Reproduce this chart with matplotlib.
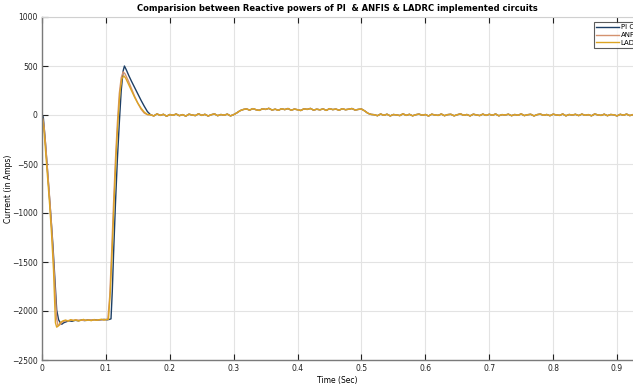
import numpy as np
import matplotlib
matplotlib.use("Agg")
import matplotlib.pyplot as plt

# ---- data -------------------------------------------------------------
series_names = ["PI Controller", "ANFIS", "LADRC"]

# start-up transient (time in s, reactive power)
t_pi = [0, 0.002, 0.005, 0.008, 0.011, 0.014, 0.017, 0.020, 0.023, 0.026,
        0.029, 0.031, 0.034, 0.038, 0.042, 0.047, 0.052, 0.057, 0.062, 0.067,
        0.072, 0.077, 0.082, 0.087, 0.092, 0.097, 0.102, 0.106, 0.108, 0.110,
        0.112, 0.115, 0.118, 0.121, 0.124, 0.127, 0.129, 0.132, 0.136, 0.140,
        0.145, 0.150, 0.155, 0.160, 0.165]
q_pi = [0, -20, -250, -520, -780, -1040, -1320, -1650, -1990, -2090,
        -2125, -2135, -2120, -2110, -2100, -2105, -2095, -2100, -2092, -2098,
        -2090, -2095, -2088, -2093, -2090, -2086, -2090, -2085, -2080, -1800,
        -1420, -900, -450, -80, 250, 450, 500, 460, 400, 345,
        280, 215, 150, 90, 35]

t_an = [0, 0.003, 0.006, 0.009, 0.012, 0.015, 0.018, 0.021, 0.023, 0.025,
        0.028, 0.032, 0.037, 0.045, 0.055, 0.065, 0.075, 0.085, 0.095, 0.103,
        0.106, 0.109, 0.112, 0.115, 0.118, 0.121, 0.124, 0.127, 0.130, 0.135,
        0.140, 0.145, 0.150, 0.155, 0.160, 0.165]
q_an = [0, -100, -330, -590, -850, -1140, -1480, -1850, -2080, -2150,
        -2140, -2110, -2100, -2095, -2092, -2096, -2090, -2093, -2088, -2086,
        -1850, -1400, -900, -450, -80, 220, 380, 440, 420, 350,
        270, 190, 120, 60, 20, 3]

t_la = [0, 0.003, 0.006, 0.009, 0.012, 0.015, 0.018, 0.020, 0.021, 0.023,
        0.026, 0.029, 0.033, 0.037, 0.041, 0.045, 0.049, 0.053, 0.057, 0.061,
        0.065, 0.069, 0.073, 0.077, 0.081, 0.085, 0.089, 0.093, 0.097, 0.101,
        0.104, 0.107, 0.110, 0.113, 0.116, 0.119, 0.122, 0.125, 0.128, 0.131,
        0.135, 0.140, 0.145, 0.150, 0.155, 0.160, 0.165]
q_la = [0, -150, -400, -660, -920, -1220, -1580, -1950, -2120, -2165,
        -2150, -2115, -2100, -2092, -2104, -2088, -2098, -2090, -2102, -2094,
        -2086, -2097, -2091, -2099, -2088, -2095, -2090, -2084, -2093, -2086,
        -2085, -1800, -1350, -850, -400, -50, 230, 370, 400, 375,
        320, 250, 180, 120, 70, 30, 5]

# steady-state part shared by all three controllers, 0.170 s .. 0.925 s
q_tail = [2, -9, 11, -4, 7, -12, 5, -3, 10, -7,
          4, -11, 8, 0, -6, 12, -4, 7, -10, 3,
          11, -7, 5, -2, 9, -9, 4,
          22, 44, 56,
          62, 50, 65, 54, 47, 63, 57, 68, 51, 59,
          48, 64, 55, 66, 49, 60, 54, 46, 63, 57,
          67, 50, 59, 53, 62, 47, 65, 55, 60, 49,
          64, 54, 59, 66, 51, 57, 61,
          42, 18, 6,
          3, -7, 10, -3, 8, -9, 5, 1, -6, 12,
          -4, 7, -8, 3, 9, -2, 5, -10, 8, 0,
          -4, 10, -7, 4, 7, -8, 3, 11, -3, 5,
          -9, 8, 1, -6, 9, -4, 7, -2, 10, -8,
          4, 0, 8, -7, 5, -3, 11, -6, 3, 7,
          -9, 4, 9, -3, 5, -7, 8, 1, -4, 10,
          -8, 5, 0, 7, -6, 9, -3, 4, -8, 10,
          1, -4, 8, -7, 5, 2, -9, 7, -2, 9,
          -6, 4]
t_tail = np.linspace(0.170, 0.925, len(q_tail))

x_ticks = [0, 0.1, 0.2, 0.3, 0.4, 0.5, 0.6, 0.7, 0.8, 0.9]
x_ticklabels = ["0", "0.1", "0.2", "0.3", "0.4", "0.5", "0.6", "0.7", "0.8", "0.9"]
y_ticks = [-2500, -2000, -1500, -1000, -500, 0, 500, 1000]

colors = ["#1d3f66", "#d4926f", "#dca423"]

# ---- figure -----------------------------------------------------------
fig = plt.figure(figsize=(6.33, 3.85), dpi=100)
ax = fig.add_axes([42 / 633, 25 / 385, 1 - 42 / 633, 343 / 385])

for t, q, name, c in zip([t_pi, t_an, t_la], [q_pi, q_an, q_la],
                         series_names, colors):
    tt = np.concatenate([t, t_tail])
    qq = np.concatenate([q, q_tail])
    ax.plot(tt, qq, color=c, lw=1.0, label=name)

ax.set_xlim(0, 0.925)
ax.set_ylim(-2500, 1000)
ax.set_xticks(x_ticks)
ax.set_xticklabels(x_ticklabels)
ax.set_yticks(y_ticks)
ax.tick_params(direction="in", length=4, width=0.8, labelsize=5.5,
               top=True, right=False, colors="#222222", pad=3)
ax.grid(True, color="#e3e3e3", lw=0.8)
ax.set_axisbelow(True)
for side in ["left", "bottom"]:
    ax.spines[side].set_color("#7a7a7a")
    ax.spines[side].set_linewidth(1.0)
ax.spines["top"].set_color("#d0d0d0")
ax.spines["right"].set_visible(False)

ax.set_title("Comparision between Reactive powers of PI  & ANFIS & LADRC implemented circuits",
             fontsize=6, fontweight="bold", pad=4)
ax.set_xlabel("Time (Sec)", fontsize=5.5, labelpad=2)
ax.set_ylabel("Current (in Amps)", fontsize=5.5)
ax.yaxis.set_label_coords(-29 / 591, 0.5)

leg = ax.legend(loc="upper left", bbox_to_anchor=(594 / 633, 1 - 22 / 385),
                bbox_transform=fig.transFigure, fontsize=5, frameon=True,
                fancybox=False, handlelength=3.2, handletextpad=0.3,
                borderpad=0.35, labelspacing=0.25, borderaxespad=0)
leg.get_frame().set_edgecolor("#333333")
leg.get_frame().set_linewidth(0.8)

fig.savefig("out.png", dpi=100)
